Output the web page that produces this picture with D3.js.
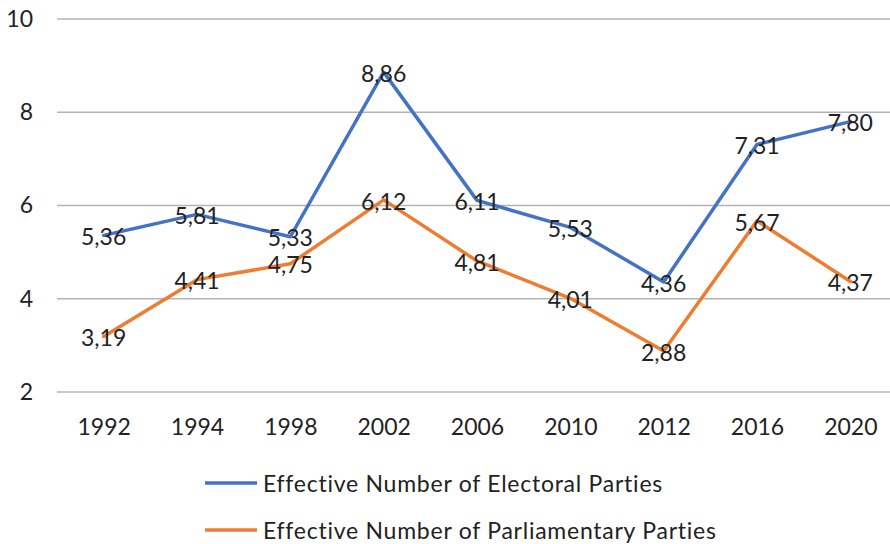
<!DOCTYPE html>
<html><head><meta charset="utf-8">
<script src="https://cdn.jsdelivr.net/npm/d3@7"></script>
<style>body{margin:0;background:#fff}svg{display:block}text{font-family:Lato,"Open Sans",sans-serif;fill:#222}</style>
</head><body>
<svg id="c" width="890" height="544"></svg>
<script>
const years = ["1992","1994","1998","2002","2006","2010","2012","2016","2020"];
const electoral = [5.36,5.81,5.33,8.86,6.11,5.53,4.36,7.31,7.80];
const parliamentary = [3.19,4.41,4.75,6.12,4.81,4.01,2.88,5.67,4.37];
const yTicks = [2,4,6,8,10];
const seriesNames = ["Effective Number of Electoral Parties","Effective Number of Parliamentary Parties"];
const colors = ["#4472C4","#ED7D31"];

const svg = d3.select("#c");
const x = d3.scalePoint().domain(years).range([57,897]).padding(0.5);
const y = d3.scaleLinear().domain([2,10]).range([392,19]);
const fs = 23;

// gridlines
svg.append("g").selectAll("line").data(yTicks).join("line")
  .attr("x1",57).attr("x2",890).attr("y1",d=>y(d)).attr("y2",d=>y(d))
  .attr("stroke","#b4b4b4").attr("stroke-width",1.4);

// y axis labels
const yAxis = d3.axisLeft(y).tickValues(yTicks).tickSize(0).tickPadding(0);
const yg = svg.append("g").attr("transform","translate(33,0)").call(yAxis);
yg.select(".domain").remove();
yg.selectAll("text").attr("font-size",fs).attr("font-family","Lato").attr("fill","#222");

// x axis labels
const xAxis = d3.axisBottom(x).tickSize(0).tickPadding(0);
const xg = svg.append("g").attr("transform","translate(0,419)").call(xAxis);
xg.select(".domain").remove();
xg.selectAll("text").attr("font-size",fs).attr("font-family","Lato").attr("fill","#222");

const series = [electoral, parliamentary];
const line = d3.line().x((d,i)=>x(years[i])).y(d=>y(d));
series.forEach((s,k)=>{
  svg.append("path").datum(s).attr("d",line).attr("fill","none")
    .attr("stroke",colors[k]).attr("stroke-width",3.5).attr("stroke-linejoin","round").attr("stroke-linecap","round");
});
const fmt = d=>d.toFixed(2).replace(".",",");
series.forEach((s,k)=>{
  svg.append("g").selectAll("text").data(s).join("text")
    .attr("x",(d,i)=>x(years[i])).attr("y",d=>y(d))
    .attr("text-anchor","middle").attr("dy","0.42em")
    .attr("font-size",fs).text(fmt);
});

// legend
const lg = svg.append("g");
seriesNames.forEach((n,k)=>{
  const ly = 483 + k*47;
  lg.append("line").attr("x1",205).attr("x2",257).attr("y1",ly).attr("y2",ly)
    .attr("stroke",colors[k]).attr("stroke-width",3.5);
  lg.append("text").attr("x",263).attr("y",ly).attr("dy","0.38em").attr("font-size",fs)
    .attr("letter-spacing","0.75px").text(n);
});
</script>
</body></html>
